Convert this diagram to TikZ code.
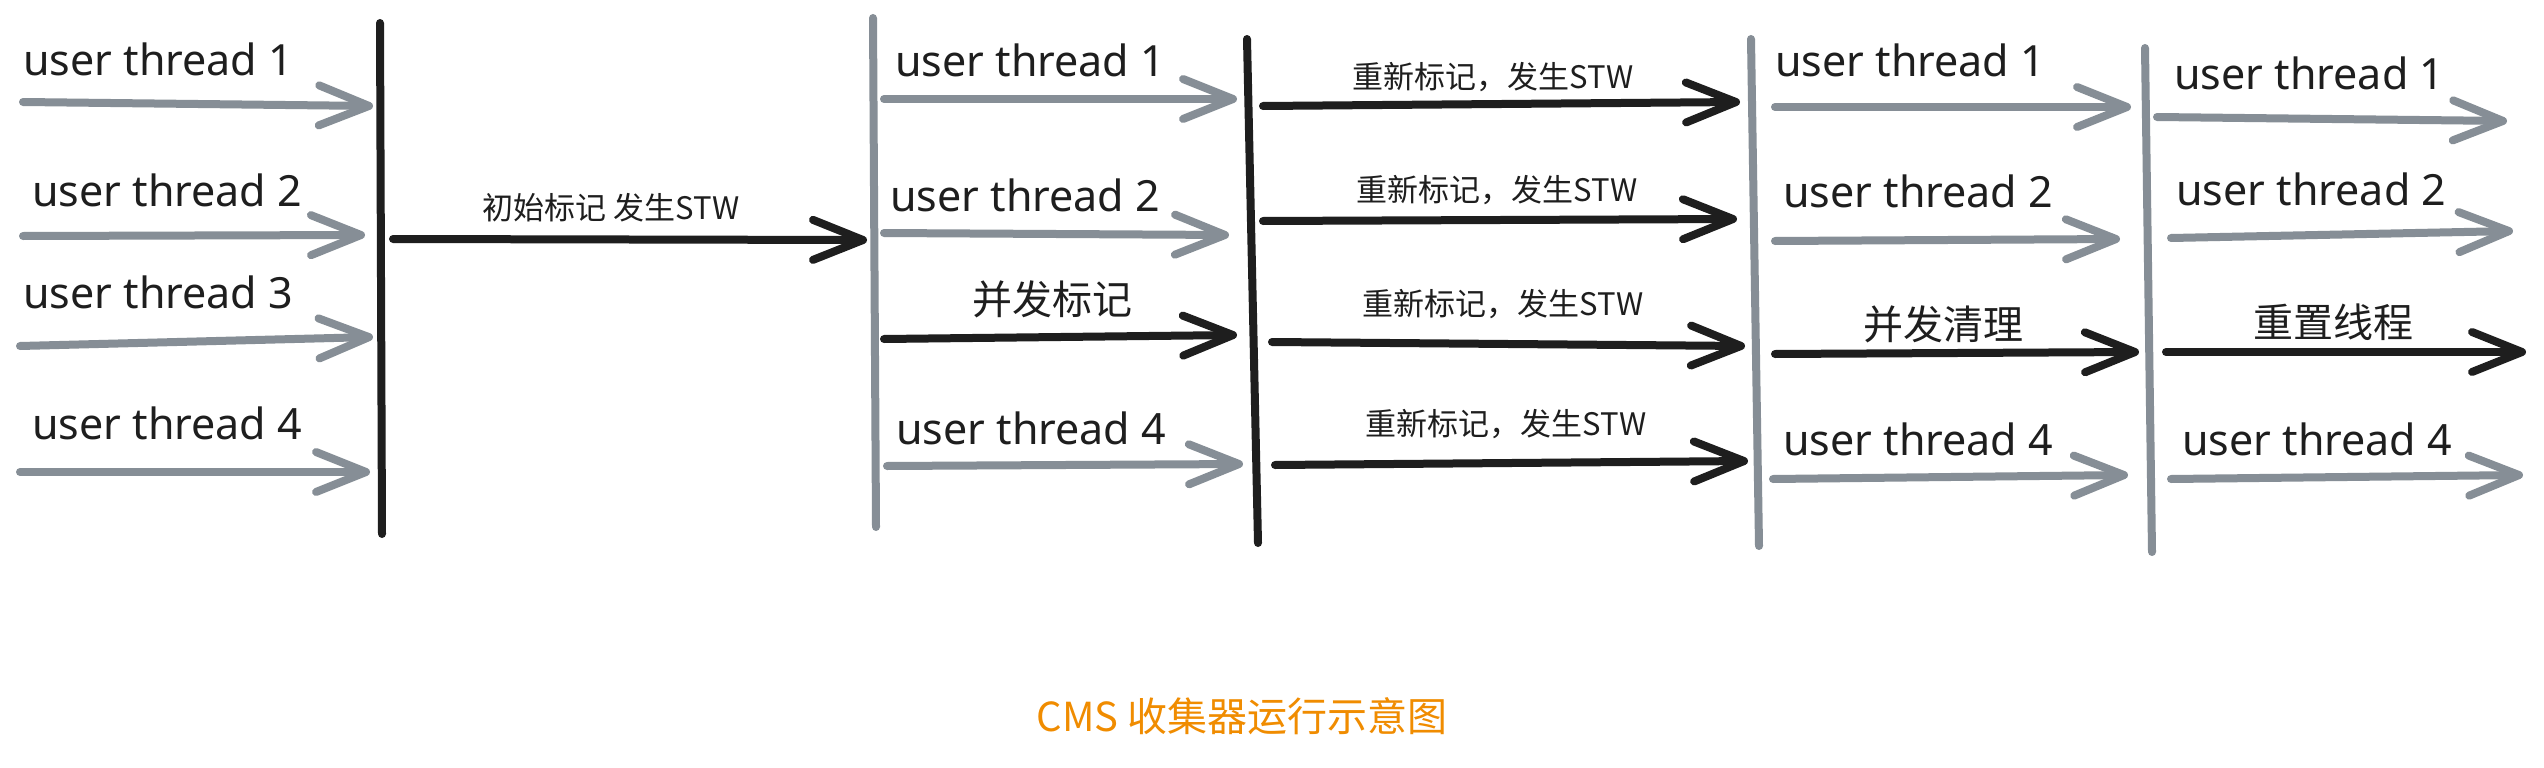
\documentclass[tikz,border=0pt]{standalone}
\usepackage{fontspec}
\setmainfont{Noto Sans}
\newfontfamily\cjk{Noto Sans CJK SC}
\usetikzlibrary{arrows.meta}
\definecolor{ink}{HTML}{1E1E1E}
\definecolor{greyline}{HTML}{868E96}
\definecolor{orangetxt}{HTML}{F08C00}
\begin{document}
\begin{tikzpicture}[x=1pt,y=-1pt,
  barline/.style={line width=8pt,line cap=round},
  flow/.style={line width=8pt,line cap=round,-{Straight Barb[length=50pt,width=40pt,round]}},
  gline/.style={draw=greyline},
  kline/.style={draw=ink},
  lbl/.style={anchor=base west,inner sep=0pt,font=\fontsize{43}{50}\selectfont,text=ink},
  stw/.style={anchor=center,inner sep=0pt,font=\cjk\fontsize{31}{38}\selectfont,text=ink},
  phase/.style={anchor=center,inner sep=0pt,font=\cjk\fontsize{40}{48}\selectfont,text=ink}]
\fill[white] (0,0) rectangle (2544,768);
\useasboundingbox (0,0) rectangle (2544,768);

% vertical bars
\draw[barline,kline] (380,23) coordinate (b1t) -- (382,534) coordinate (b1b);
\draw[barline,gline] (873,18) coordinate (b2t) -- (876,527) coordinate (b2b);
\draw[barline,kline] (1247,39) coordinate (b3t) -- (1258,543) coordinate (b3b);
\draw[barline,gline] (1751,39) coordinate (b4t) -- (1759,546) coordinate (b4b);
\draw[barline,gline] (2145,48) coordinate (b5t) -- (2152,552) coordinate (b5b);

% column 1
\node[lbl] (l11) at (23,75) {user thread 1};
\node[lbl] (l12) at (32,206) {user thread 2};
\node[lbl] (l13) at (23,308) {user thread 3};
\node[lbl] (l14) at (32,439) {user thread 4};
\draw[flow,gline] (23,102) coordinate (a11s) -- (373,106) coordinate (a11e);
\draw[flow,gline] (23,236) coordinate (a12s) -- (365,235) coordinate (a12e);
\draw[flow,gline] (20,346) coordinate (a13s) -- (373,337) coordinate (a13e);
\draw[flow,gline] (20,472) coordinate (a14s) -- (370,472) coordinate (a14e);

% initial mark
\node[stw] (init) at (611,208) {初始标记 发生STW};
\draw[flow,kline] (393,239) coordinate (ims) -- (867,240) coordinate (ime);

% column 2
\node[lbl] (l21) at (895,77) {user thread 1};
\node[lbl] (l22) at (890,211) {user thread 2};
\node[phase] (conc) at (1052,299) {并发标记};
\node[lbl] (l24) at (896,444) {user thread 4};
\draw[flow,gline] (884,99) coordinate (a21s) -- (1237,99) coordinate (a21e);
\draw[flow,gline] (884,233) coordinate (a22s) -- (1229,235) coordinate (a22e);
\draw[flow,kline] (884,339) coordinate (a23s) -- (1237,335) coordinate (a23e);
\draw[flow,gline] (887,466) coordinate (a24s) -- (1243,464) coordinate (a24e);

% column 3 remark
\node[stw] (rm1) at (1493,77) {重新标记，发生STW};
\node[stw] (rm2) at (1497,190) {重新标记，发生STW};
\node[stw] (rm3) at (1503,304) {重新标记，发生STW};
\node[stw] (rm4) at (1506,424) {重新标记，发生STW};
\draw[flow,kline] (1263,106) coordinate (a31s) -- (1740,102) coordinate (a31e);
\draw[flow,kline] (1263,221) coordinate (a32s) -- (1737,219) coordinate (a32e);
\draw[flow,kline] (1272,342) coordinate (a33s) -- (1745,346) coordinate (a33e);
\draw[flow,kline] (1275,465) coordinate (a34s) -- (1748,461) coordinate (a34e);

% column 4
\node[lbl] (l41) at (1775,77) {user thread 1};
\node[lbl] (l42) at (1783,207) {user thread 2};
\node[phase] (sweep) at (1943,324) {并发清理};
\node[lbl] (l44) at (1783,455) {user thread 4};
\draw[flow,gline] (1775,107) coordinate (a41s) -- (2131,107) coordinate (a41e);
\draw[flow,gline] (1775,241) coordinate (a42s) -- (2120,239) coordinate (a42e);
\draw[flow,kline] (1775,354) coordinate (a43s) -- (2139,352) coordinate (a43e);
\draw[flow,gline] (1773,479) coordinate (a44s) -- (2128,475) coordinate (a44e);

% column 5
\node[lbl] (l51) at (2174,89) {user thread 1};
\node[lbl] (l52) at (2176,205) {user thread 2};
\node[phase] (reset) at (2333,322) {重置线程};
\node[lbl] (l54) at (2182,455) {user thread 4};
\draw[flow,gline] (2157,117) coordinate (a51s) -- (2507,121) coordinate (a51e);
\draw[flow,gline] (2171,238) coordinate (a52s) -- (2513,231) coordinate (a52e);
\draw[flow,kline] (2166,352) coordinate (a53s) -- (2526,352) coordinate (a53e);
\draw[flow,gline] (2171,479) coordinate (a54s) -- (2523,475) coordinate (a54e);

% title
\node[anchor=center,inner sep=0pt,font=\cjk\fontsize{40}{48}\selectfont,text=orangetxt] (title) at (1242,716) {CMS 收集器运行示意图};
\end{tikzpicture}
\end{document}
